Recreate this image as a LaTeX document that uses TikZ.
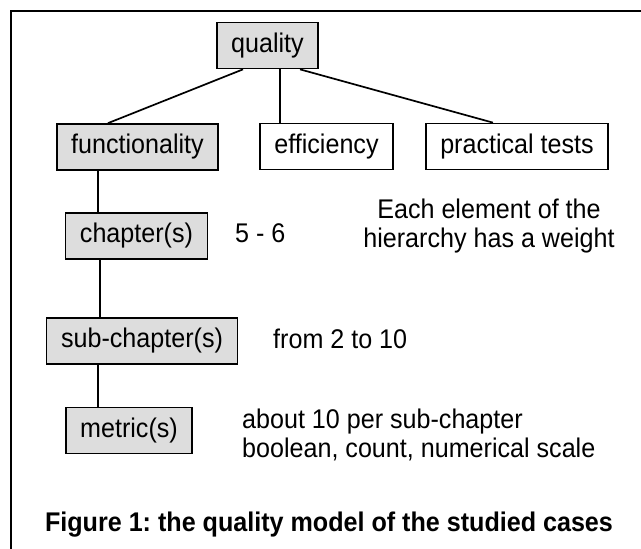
\documentclass[tikz,border=0pt]{standalone}
\usepackage{xcolor}
\usepackage{fontspec}
\setmainfont{Liberation Sans}[FakeStretch=0.93]
\usepackage{tikz}

\definecolor{boxgrey}{RGB}{221,221,221}
\newcommand{\notefont}{\fontsize{27}{29}\selectfont}

\tikzset{
  level/.style={draw=black, line width=1.7pt, inner xsep=14.5pt, inner ysep=0pt,
    minimum height=46pt, font=\notefont},
  levelgrey/.style={level, fill=boxgrey},
  note/.style={inner sep=0pt, font=\notefont},
  link/.style={line width=1.7pt}
}

\begin{document}
\frenchspacing
\begin{tikzpicture}[x=1pt,y=-1pt]
        \useasboundingbox (0,0) rectangle (641,549);
        \draw[line width=1.6pt] (11,549) -- (11,11) -- (641,11);

        \node[levelgrey] (quality) at (267.5,45.5) {quality};
        \node[levelgrey] (functionality) at (137.5,147) {functionality};
        \node[level] (efficiency) at (326.5,146.5) {efficiency};
        \node[level] (practical) at (517,146.5) {practical tests};
        \node[levelgrey] (chapter) at (136.5,236) {chapter(s)};
        \node[levelgrey] (subchapter) at (142,341) {sub-chapter(s)};
        \node[levelgrey] (metric) at (129,430.5) {metric(s)};

        \node[note, anchor=base west] (nchapter) at (235,242) {5 - 6};
        \node[note, anchor=base west] (nsub) at (273,348) {from 2 to 10};
        \node[note, anchor=north, align=center] (nweight) at (489,199)
             {Each element of the\\hierarchy has a weight};
        \node[note, anchor=base west] (nmetric) at (242,428) {about 10 per sub-chapter};
        \node[note, anchor=base west] (nscale) at (242,457) {boolean, count, numerical scale};
        \node[note, anchor=base, font=\notefont\bfseries] (caption) at (329,531)
             {Figure 1: the quality model of the studied cases};

        \draw[link] ([xshift=-24.5pt]quality.south) -- ([xshift=-29.5pt]functionality.north);
        \draw[link] ([xshift=12.5pt]quality.south) -- ([xshift=-46.5pt]efficiency.north);
        \draw[link] ([xshift=32.5pt]quality.south) -- ([xshift=-24pt]practical.north);

        \draw[link] ([xshift=-39.5pt]functionality.south) -- ([xshift=-38.5pt]chapter.north);
        \draw[link] ([xshift=-36.5pt]chapter.south) -- ([xshift=-42pt]subchapter.north);
        \draw[link] ([xshift=-44pt]subchapter.south) -- ([xshift=-31pt]metric.north);
    \end{tikzpicture}
\end{document}
